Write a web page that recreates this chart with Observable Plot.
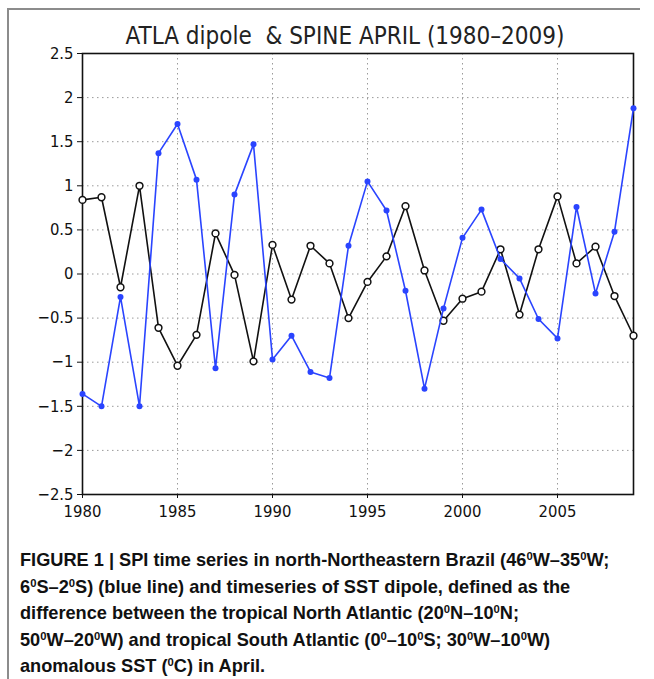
<!DOCTYPE html>
<html><head><meta charset="utf-8">
<script src="https://cdn.jsdelivr.net/npm/d3@7"></script>
<script src="https://cdn.jsdelivr.net/npm/@observablehq/plot@0.6"></script>
<style>
html,body{margin:0;padding:0;background:#fff;}
body{width:654px;height:679px;overflow:hidden;position:relative;}
#frame{position:absolute;left:7px;top:8px;width:631px;height:700px;border-left:2px solid #8c8c8c;border-top:2px solid #8c8c8c;}
#title{position:absolute;left:45px;width:600px;top:22px;text-align:center;font-family:"Liberation Sans Narrow","DejaVu Sans Condensed",sans-serif;font-size:24px;color:#222;white-space:pre;}
#chart{position:absolute;left:0;top:0;}
#caption{position:absolute;left:20px;top:547px;width:630px;font-family:"Liberation Sans",Arial,sans-serif;font-weight:bold;font-size:18.2px;line-height:26.5px;color:#111;white-space:nowrap;}
#caption sup{font-size:0.62em;vertical-align:0.55em;line-height:0;}
</style>
</head><body>
<div id="frame"></div>
<div id="chart"></div>
<div id="title">ATLA dipole  &amp; SPINE APRIL (1980–2009)</div>
<div id="caption">FIGURE 1 | SPI time series in north-Northeastern Brazil (46<sup>0</sup>W–35<sup>0</sup>W;<br>6<sup>0</sup>S–2<sup>0</sup>S) (blue line) and timeseries of SST dipole, defined as the<br>difference between the tropical North Atlantic (20<sup>0</sup>N–10<sup>0</sup>N;<br>50<sup>0</sup>W–20<sup>0</sup>W) and tropical South Atlantic (0<sup>0</sup>–10<sup>0</sup>S; 30<sup>0</sup>W–10<sup>0</sup>W)<br>anomalous SST (<sup>0</sup>C) in April.</div>
<script>
const years = [1980,1981,1982,1983,1984,1985,1986,1987,1988,1989,1990,1991,1992,1993,1994,1995,1996,1997,1998,1999,2000,2001,2002,2003,2004,2005,2006,2007,2008,2009];
const dipole = [0.84,0.87,-0.15,1.0,-0.61,-1.04,-0.69,0.46,-0.01,-0.99,0.33,-0.29,0.32,0.12,-0.5,-0.09,0.2,0.77,0.04,-0.53,-0.28,-0.2,0.28,-0.46,0.28,0.88,0.12,0.31,-0.25,-0.7];
const spi = [-1.36,-1.5,-0.26,-1.5,1.37,1.7,1.07,-1.07,0.9,1.47,-0.97,-0.7,-1.11,-1.18,0.32,1.05,0.72,-0.19,-1.3,-0.39,0.41,0.73,0.17,-0.05,-0.51,-0.73,0.76,-0.22,0.48,1.88];
const yTicks = [-2.5,-2,-1.5,-1,-0.5,0,0.5,1,1.5,2,2.5];
const xTicks = [1980,1985,1990,1995,2000,2005];
const xGrid = [1985,1990,1995,2000,2005];

const rows = years.map((yr,i)=>({year:yr, dipole:dipole[i], spi:spi[i]}));

const chart = Plot.plot({
  width: 654,
  height: 530,
  marginLeft: 82,
  marginRight: 21,
  marginTop: 53,
  marginBottom: 36,
  style: {fontFamily: "'DejaVu Sans Condensed', 'DejaVu Sans', sans-serif", fontSize: "16.5px", color: "#111", background: "transparent"},
  x: {domain: [1980, 2009]},
  y: {domain: [-2.5, 2.5]},
  marks: [
    Plot.gridY(yTicks.slice(1,-1), {stroke: "#9a9a9a", strokeOpacity: 1, strokeDasharray: "1.5,3.5", strokeWidth: 1}),
    Plot.gridX(xGrid, {stroke: "#9a9a9a", strokeOpacity: 1, strokeDasharray: "1.5,3.5", strokeWidth: 1}),
    Plot.axisY(yTicks, {tickSize: 5, tickPadding: 4, tickFormat: d => d3.format("")(d).replace("-", "−"), label: null, stroke: "#111"}),
    Plot.axisX(xTicks, {tickSize: 4, tickPadding: 7, tickFormat: d => String(d), label: null, stroke: "#111"}),
    Plot.frame({stroke: "#111", strokeWidth: 1.6}),
    Plot.line(rows, {x: "year", y: "dipole", stroke: "#111", strokeWidth: 1.6}),
    Plot.dot(rows, {x: "year", y: "dipole", r: 3.4, fill: "white", stroke: "#111", strokeWidth: 1.5}),
    Plot.line(rows, {x: "year", y: "spi", stroke: "#2a44ff", strokeWidth: 1.6}),
    Plot.dot(rows, {x: "year", y: "spi", r: 3, fill: "#2a44ff", stroke: "none"})
  ]
});
document.getElementById("chart").appendChild(chart);
</script>
</body></html>
